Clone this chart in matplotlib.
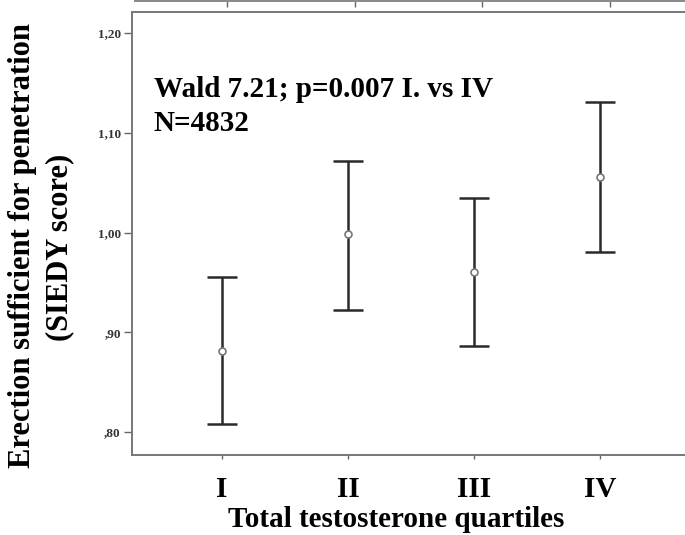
import matplotlib
matplotlib.use("Agg")
import matplotlib.pyplot as plt
import numpy as np

categories = ["I", "II", "III", "IV"]
means = [0.881, 0.998, 0.960, 1.056]
lower = [0.808, 0.922, 0.886, 0.980]
upper = [0.955, 1.072, 1.035, 1.131]
ytick_vals = [0.80, 0.90, 1.00, 1.10, 1.20]
ytick_labels = [",80", ",90", "1,00", "1,10", "1,20"]

plt.rcParams['font.family'] = ['Liberation Serif', 'DejaVu Serif']

W, H = 685, 535
fig = plt.figure(figsize=(W / 100, H / 100), dpi=100)

# main axes
ax = fig.add_axes([132 / W, (H - 455) / H, 558 / W, 443 / H])
x = np.arange(1, len(categories) + 1)
m = np.array(means)
err = [m - np.array(lower), np.array(upper) - m]
ax.errorbar(x, m, yerr=err, fmt='none', ecolor='#2a2a2a', elinewidth=1.8,
            capsize=11, capthick=1.8, zorder=2)
ax.plot(x, m, 'o', mfc='white', mec='#777777', ms=5, mew=1.2, zorder=3)

ax.set_xlim(0.286, 4.714)
ax.set_ylim(0.777, 1.221)
ax.set_yticks(ytick_vals)
ax.set_yticklabels(ytick_labels, fontsize=9.5, fontweight='bold', color='#333333')
ax.set_xticks(x)
ax.set_xticklabels(categories, fontsize=21, fontweight='bold')
ax.tick_params(axis='y', length=6, width=1.0, color='#666666', pad=2)
ax.tick_params(axis='x', length=3, width=1.0, color='#666666', pad=12)
for s in ax.spines.values():
    s.set_color('#777777')
    s.set_linewidth(1.4)

fig.text(396 / W, 1 - 527 / H, "Total testosterone quartiles",
         ha='center', va='baseline', fontsize=21, fontweight='bold')
fig.text(23 / W, 1 - 246 / H, "Erection sufficient for penetration",
         rotation=90, ha='center', va='center', fontsize=22, fontweight='bold')
fig.text(60 / W, 1 - 247 / H, "(SIEDY score)",
         rotation=90, ha='center', va='center', fontsize=22, fontweight='bold')

fig.text(154 / W, 1 - 97 / H, "Wald 7.21; p=0.007 I. vs IV",
         ha='left', va='baseline', fontsize=21, fontweight='bold')
fig.text(154 / W, 1 - 131 / H, "N=4832",
         ha='left', va='baseline', fontsize=21, fontweight='bold')

# partial axis of the panel above (cropped)
ax2 = fig.add_axes([135 / W, 1 - 1 / H, 555 / W, 0.5 / H])
ax2.set_xlim(0.2796, 4.626)
ax2.set_xticks(x)
ax2.set_xticklabels([])
ax2.set_yticks([])
ax2.tick_params(axis='x', length=4, width=1.0, color='#666666')
for k in ['top', 'left', 'right']:
    ax2.spines[k].set_visible(False)
ax2.spines['bottom'].set_color('#888888')
ax2.spines['bottom'].set_linewidth(1.4)
ax2.patch.set_alpha(0)

fig.savefig("out.png", dpi=100)
